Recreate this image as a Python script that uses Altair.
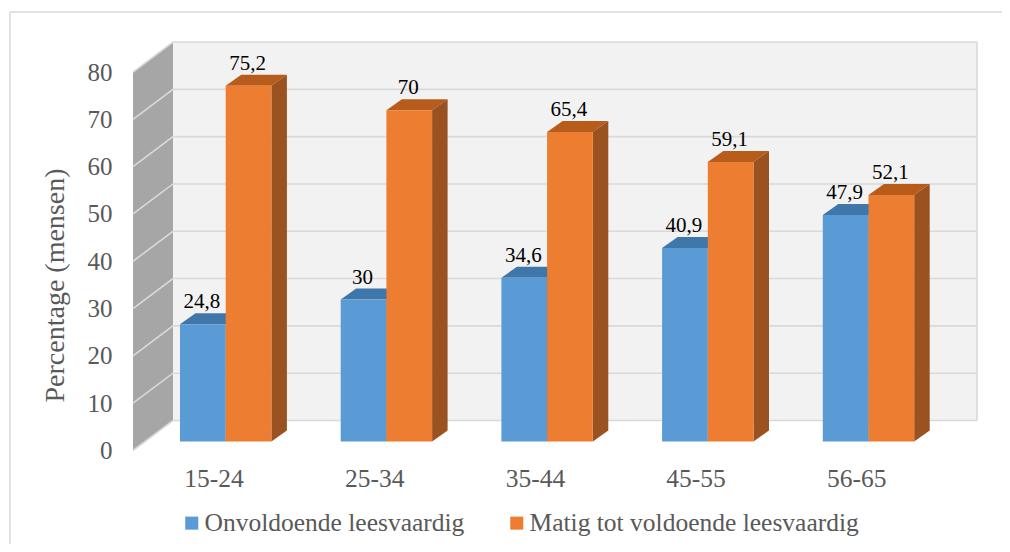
import altair as alt
import pandas as pd

categories = ["15-24", "25-34", "35-44", "45-55", "56-65"]
series_names = ["Onvoldoende leesvaardig", "Matig tot voldoende leesvaardig"]
low_values = [24.8, 30, 34.6, 40.9, 47.9]
high_values = [75.2, 70, 65.4, 59.1, 52.1]
ticks = [0, 10, 20, 30, 40, 50, 60, 70, 80]

W, H = 994, 536
FONT = "Liberation Serif"
UNIT = 4.731                # px per percentage point
WALL_DX, WALL_DV = 40, 30 / UNIT
BAR_DX, BAR_DV = 15.5, 11 / UNIT
SHIFT = 9 / UNIT            # bars stand a little behind the front edge of the floor
X0, STEP, BW = 172.0, 160.7, 45.7
WALL_L, WALL_R = 125, 969
TOP = 80

xs = alt.Scale(domain=[0, W], range=[0, W], nice=False, zero=False)
ys = alt.Scale(domain=[(442.5 - H) / UNIT, 442.5 / UNIT], nice=False, zero=False)
y_axis = alt.Axis(
    values=ticks, orient="left", offset=-104, grid=False, domain=False, ticks=False, tickSize=0,
    labelPadding=0, labelFont=FONT, labelFontSize=25, labelColor="#595959", format="d",
    title="Percentage (mensen)", titleFont=FONT, titleFontSize=28, titleFontWeight="normal",
    titleColor="#595959", titleX=-57, titleY=277, titleAlign="center", titleBaseline="middle",
    titleAngle=270)
X = lambda f="x": alt.X(f"{f}:Q", scale=xs, axis=None)
Y = lambda f="y": alt.Y(f"{f}:Q", scale=ys, axis=y_axis, title="Percentage (mensen)")


def area(rows, color):
    return alt.Chart(pd.DataFrame(rows)).mark_area(color=color, orient="vertical", interpolate="linear").encode(
        x=X(), y=Y(), y2=alt.Y2("y2:Q"), detail="id:N")


left_wall = [
    dict(id="l", x=WALL_L, y=TOP, y2=0),
    dict(id="l", x=WALL_L + WALL_DX, y=TOP + WALL_DV, y2=WALL_DV),
]
back_wall = [
    dict(id="b", x=WALL_L + WALL_DX, y=TOP + WALL_DV, y2=WALL_DV),
    dict(id="b", x=WALL_R, y=TOP + WALL_DV, y2=WALL_DV),
]

grid_rows = []
for t in ticks:
    grid_rows += [
        dict(id=t, o=0, x=WALL_L, y=t),
        dict(id=t, o=1, x=WALL_L + WALL_DX, y=t + WALL_DV),
        dict(id=t, o=2, x=WALL_R, y=t + WALL_DV),
    ]
grid_rows += [dict(id="r", o=0, x=WALL_R, y=WALL_DV), dict(id="r", o=1, x=WALL_R, y=TOP + WALL_DV)]
grid = alt.Chart(pd.DataFrame(grid_rows)).mark_line(color="#d9d9d9", strokeWidth=1.6).encode(
    x=X(), y=Y(), detail="id:N", order="o:Q")

face_top = ["#3f77ab", "#b85c1c"]
face_side = ["#3a6a96", "#9a5220"]
layers = [area(left_wall, "#a6a6a6"), area(back_wall, "#f2f2f2"), grid]

bar_rows, label_rows = [], []
for s, (name, vals) in enumerate(zip(series_names, [low_values, high_values])):
    tops, sides = [], []
    for i, v in enumerate(vals):
        x0 = X0 + i * STEP + s * BW
        x1 = x0 + BW
        h = v + SHIFT
        tops += [
            dict(id=i, x=x0, y=h, y2=h),
            dict(id=i, x=x0 + BAR_DX, y=h + BAR_DV, y2=h),
            dict(id=i, x=x1, y=h + BAR_DV, y2=h),
            dict(id=i, x=x1 + BAR_DX, y=h + BAR_DV, y2=h + BAR_DV),
        ]
        sides += [
            dict(id=i, x=x1, y=h, y2=SHIFT),
            dict(id=i, x=x1 + BAR_DX, y=h + BAR_DV, y2=SHIFT + BAR_DV),
        ]
        bar_rows.append(dict(series=name, x=x0, x2=x1, y=h, y2=SHIFT))
        label_rows.append(dict(x=(x0 + x1) / 2 - 1, y=h + 22 / UNIT, label=str(v).replace(".", ",")))
    layers += [area(tops, face_top[s]), area(sides, face_side[s])]
    sb = [r for r in bar_rows if r["series"] == name]
    layers.append(alt.Chart(pd.DataFrame(sb)).mark_bar(stroke=None).encode(
        x=X(), x2=alt.X2("x2:Q"), y=Y(), y2=alt.Y2("y2:Q"),
        color=alt.Color("series:N", scale=alt.Scale(domain=series_names, range=["#5b9bd5", "#ed7d31"]),
                        sort=None,
                        legend=alt.Legend(orient="none", legendX=171, legendY=502, direction="horizontal",
                                          columns=2, title=None, symbolType="square", symbolSize=170,
                                          symbolStrokeWidth=0, labelFont=FONT, labelFontSize=25.5,
                                          labelColor="#595959", columnPadding=39, labelOffset=0,
                                          labelLimit=500, padding=0)),
    ))

labels = alt.Chart(pd.DataFrame(label_rows)).mark_text(font=FONT, fontSize=21, color="#000000", baseline="middle").encode(
    x=X(), y=Y(), text="label:N")
layers.append(labels)

cat_rows = [dict(x=X0 + i * STEP + 34, y=(442.5 - 471) / UNIT, c=c) for i, c in enumerate(categories)]
cats = alt.Chart(pd.DataFrame(cat_rows)).mark_text(font=FONT, fontSize=25.5, color="#595959", baseline="middle").encode(
    x=X(), y=Y(), text="c:N")
layers.append(cats)

border_top = alt.Chart(pd.DataFrame({"a": [0]})).mark_rule(color="#d9d9d9", strokeWidth=1.5).encode(
    x=alt.value(2), x2=alt.value(W), y=alt.value(4))
border_left = alt.Chart(pd.DataFrame({"a": [0]})).mark_rule(color="#d9d9d9", strokeWidth=1.5).encode(
    x=alt.value(2), y=alt.value(4), y2=alt.value(H))
layers += [border_top, border_left]

chart = alt.layer(*layers).properties(
    width=W, height=H, padding=0, autosize=alt.AutoSizeParams(type="none"), background="#ffffff"
).configure_view(stroke=None)

chart.save("out.html", embed_options={"renderer": "svg", "actions": False})
